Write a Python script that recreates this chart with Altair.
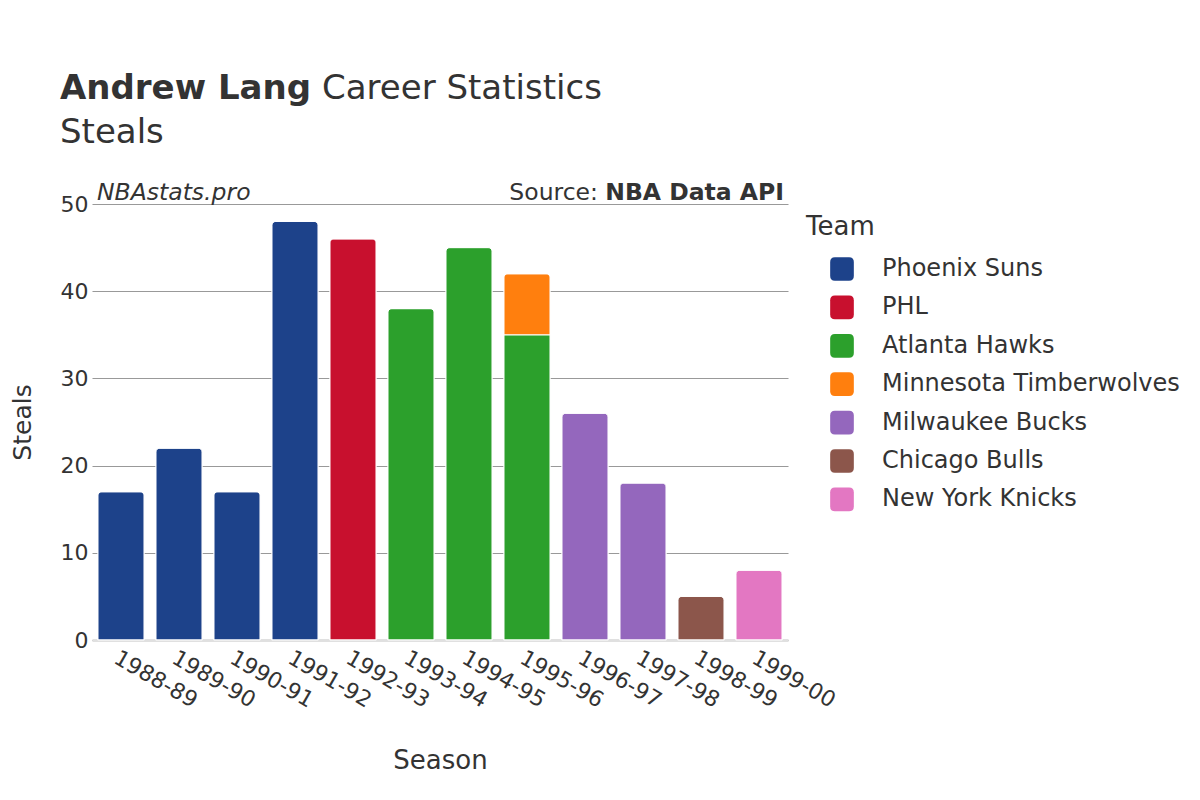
import altair as alt
import pandas as pd

seasons = ["1988-89", "1989-90", "1990-91", "1991-92", "1992-93", "1993-94",
           "1994-95", "1995-96", "1995-96", "1996-97", "1997-98", "1998-99", "1999-00"]
teams = ["Phoenix Suns", "Phoenix Suns", "Phoenix Suns", "Phoenix Suns", "PHL",
         "Atlanta Hawks", "Atlanta Hawks", "Atlanta Hawks", "Minnesota Timberwolves",
         "Milwaukee Bucks", "Milwaukee Bucks", "Chicago Bulls", "New York Knicks"]
steals = [17, 22, 17, 48, 46, 38, 45, 35, 7, 26, 18, 5, 8]

team_order = ["Phoenix Suns", "PHL", "Atlanta Hawks", "Minnesota Timberwolves",
              "Milwaukee Bucks", "Chicago Bulls", "New York Knicks"]
team_colors = ["#1d428a", "#c8102e", "#2ca02c", "#ff7f0e", "#9467bd", "#8c564b", "#e377c2"]

df = pd.DataFrame({"Season": seasons, "Team": teams, "Steals": steals})
df["order"] = df["Team"].map({t: i for i, t in enumerate(team_order)})

FONT = "DejaVu Sans"
TXT = "#333333"

rounded = ("M-1,-0.6 Q-1,-1 -0.6,-1 L0.6,-1 Q1,-1 1,-0.6 L1,0.6 Q1,1 0.6,1 "
           "L-0.6,1 Q-1,1 -1,0.6 Z")

bars = alt.Chart(df).mark_bar(
    cornerRadiusTopLeft=4, cornerRadiusTopRight=4, stroke="white", strokeWidth=1
).encode(
    x=alt.X("Season:N", title="Season",
            scale=alt.Scale(paddingInner=0.2, paddingOuter=0.1),
            axis=alt.Axis(labelAngle=30, labelAlign="left", labelBaseline="top",
                          labelFontSize=22, titleFontSize=26, titleFontWeight="normal",
                          titlePadding=36, labelPadding=7, ticks=False, grid=False,
                          domainColor="#e0e0e0", domainWidth=3, labelColor=TXT,
                          titleColor=TXT, labelFont=FONT, titleFont=FONT)),
    y=alt.Y("sum(Steals):Q", title="Steals", stack="zero",
            scale=alt.Scale(domain=[0, 50]),
            axis=alt.Axis(values=[0, 10, 20, 30, 40, 50], labelFontSize=22,
                          titleFontSize=25, titleFontWeight="normal", domain=False,
                          ticks=False, gridColor="#999999", gridWidth=1, labelPadding=4,
                          titlePadding=25, labelColor=TXT, titleColor=TXT,
                          labelFont=FONT, titleFont=FONT)),
    color=alt.Color("Team:N", scale=alt.Scale(domain=team_order, range=team_colors),
                    legend=alt.Legend(title="Team", orient="none", legendX=714, legendY=10,
                                      symbolType=rounded, symbolSize=560,
                                      symbolStrokeWidth=0, labelFontSize=24,
                                      titleFontSize=26, titleFontWeight="normal",
                                      rowPadding=14.4, labelOffset=28, symbolOffset=24,
                                      titlePadding=17, labelColor=TXT, labelLimit=500,
                                      titleColor=TXT, labelFont=FONT, titleFont=FONT)),
    order=alt.Order("order:Q"),
)

ann_left = alt.Chart(pd.DataFrame({"t": ["NBAstats.pro"]})).mark_text(
    align="left", baseline="alphabetic", fontSize=23.5, fontStyle="italic",
    font=FONT, color=TXT
).encode(x=alt.value(5), y=alt.value(-4), text="t:N")

ann_right = alt.Chart(pd.DataFrame({"t": ["NBA Data API"]})).mark_text(
    align="right", baseline="alphabetic", fontSize=23.5, fontWeight="bold",
    font=FONT, color=TXT
).encode(x=alt.value(692), y=alt.value(-4), text="t:N")

ann_src = alt.Chart(pd.DataFrame({"t": ["Source:"]})).mark_text(
    align="right", baseline="alphabetic", fontSize=23.5,
    font=FONT, color=TXT
).encode(x=alt.value(692 - 186), y=alt.value(-4), text="t:N")

title_b = alt.Chart(pd.DataFrame({"t": ["Andrew Lang"]})).mark_text(
    align="left", baseline="alphabetic", fontSize=34, fontWeight="bold",
    font=FONT, color=TXT
).encode(x=alt.value(-32), y=alt.value(-105), text="t:N")

title_n = alt.Chart(pd.DataFrame({"t": ["Career Statistics"]})).mark_text(
    align="left", baseline="alphabetic", fontSize=34,
    font=FONT, color=TXT
).encode(x=alt.value(230), y=alt.value(-105), text="t:N")

subtitle = alt.Chart(pd.DataFrame({"t": ["Steals"]})).mark_text(
    align="left", baseline="alphabetic", fontSize=34,
    font=FONT, color=TXT
).encode(x=alt.value(-32), y=alt.value(-61), text="t:N")

chart = alt.layer(bars, ann_left, ann_right, ann_src, title_b, title_n, subtitle).properties(
    width=696, height=436,
    background="white",
    autosize=alt.AutoSizeParams(type="none"),
    padding={"left": 84, "top": 196, "right": 400, "bottom": 150},
).configure_view(strokeWidth=0, stroke="transparent")

chart.save("out.html", embed_options={"renderer": "svg", "actions": False})
